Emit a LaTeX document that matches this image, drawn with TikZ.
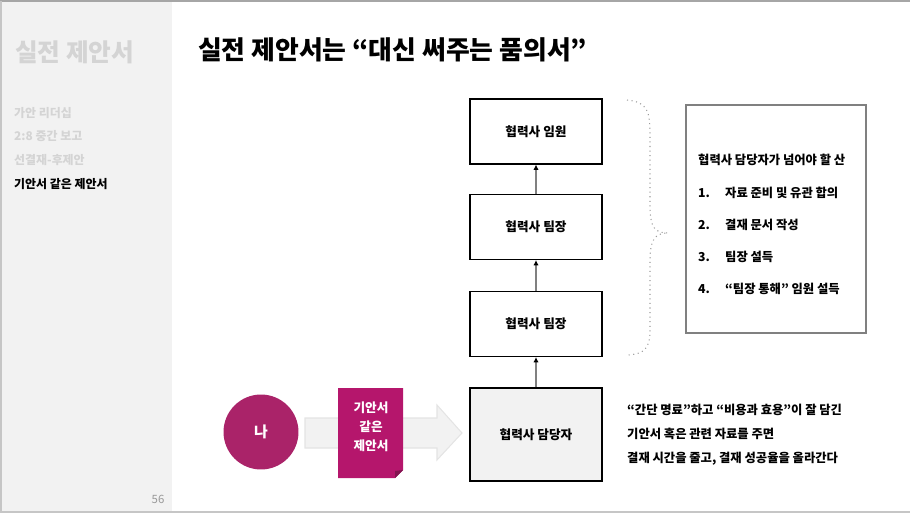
\documentclass[tikz,border=0pt]{standalone}
\usepackage{fontspec}
\setmainfont{Noto Sans CJK KR}
\usetikzlibrary{positioning,arrows.meta}

\definecolor{slidegray}{RGB}{242,242,242}
\definecolor{sidetext}{RGB}{212,212,212}
\definecolor{framegray}{RGB}{128,128,128}
\definecolor{arrowgray}{RGB}{228,228,228}
\definecolor{medown}{RGB}{170,35,105}
\definecolor{docred}{RGB}{181,22,108}
\definecolor{docfold}{RGB}{130,20,80}

\tikzset{
  rolebox/.style={draw=black,line width=0.6pt,fill=white,minimum width=2.64cm,minimum height=1.3cm,font=\fontsize{7.2}{8}\selectfont\bfseries},
  uparrow/.style={draw=framegray,line width=0.6pt,-{Latex[length=3pt,width=3pt,color=black]}},
  menuitem/.style={anchor=west,font=\fontsize{6.8}{8}\selectfont\bfseries,text=sidetext},
  bodytext/.style={anchor=west,font=\fontsize{7}{8}\selectfont\bfseries}
}

\begin{document}
\begin{tikzpicture}[x=0.02cm,y=-0.02cm]
\useasboundingbox (0,0) rectangle (910,514);
% slide frame and side bar
\fill[slidegray] (0,2) rectangle (172,511);
\draw[framegray!70,line width=0.8pt] (0,1) -- (910,1);
\draw[framegray!45,line width=0.8pt] (0,512) -- (910,512);
\draw[framegray!45,line width=0.6pt] (1,1) -- (1,512);
\node[anchor=west,font=\fontsize{14}{16}\selectfont\bfseries,text=sidetext] (sidetitle) at (9,52) {실전 제안서};
\node[menuitem] (menua) at (8,113) {가안 리더십};
\node[menuitem] (menub) at (8,136) {2:8 중간 보고};
\node[menuitem] (menuc) at (8,160) {선결재-후제안};
\node[menuitem,text=black] (menud) at (8,184) {기안서 같은 제안서};
\node[font=\fontsize{6.5}{7}\selectfont,text=framegray!80] (pagenum) at (158,499) {56};
% title
\node[anchor=west,font=\fontsize{14.7}{17}\selectfont\bfseries] (title) at (192,50) {실전 제안서는 “대신 써주는 품의서”};
% chain of roles
\node[rolebox] (exec) at (536,131.5) {협력사 임원};
\node[rolebox] (leadb) at (536,227) {협력사 팀장};
\node[rolebox] (leada) at (536,324) {협력사 팀장};
\node[rolebox,fill=slidegray,minimum height=1.86cm] (staff) at (536,434.5) {협력사 담당자};
\draw[uparrow] (leadb) -- (exec);
\draw[uparrow] (leada) -- (leadb);
\draw[uparrow] (staff) -- (leada);
% dotted brace
\coordinate (bracetop) at (627,100);
\coordinate (bracetip) at (668,233);
\coordinate (bracebot) at (627,355);
\draw[framegray!80,line width=0.6pt,dotted] (bracetop) .. controls (648,102) and (650,112) .. (650,135)
  -- (650,205) .. controls (650,228) and (655,233) .. (bracetip)
  .. controls (655,233) and (650,240) .. (650,260) -- (650,330)
  .. controls (650,348) and (645,354) .. (bracebot);
% list of hurdles
\draw[framegray,line width=0.8pt] (686,105) rectangle (866,333);
\node[bodytext] (listhead) at (692,160) {협력사 담당자가 넘어야 할 산};
\foreach \num/\item/\ypos in {1./자료 준비 및 유관 합의/193, 2./결재 문서 작성/225, 3./팀장 설득/257, 4./“팀장 통해” 임원 설득/289}{
  \node[bodytext] at (692,\ypos) {\num};
  \node[bodytext] at (719,\ypos) {\item};
}
% me, proposal and arrow
\draw[arrowgray,fill=slidegray,line width=0.6pt] (305,418) -- (437,418) -- (437,405) -- (462,433) -- (437,460) -- (437,448) -- (305,448) -- cycle;
\node[circle,fill=medown,minimum size=1.5cm,text=white,font=\fontsize{8.5}{10}\selectfont\bfseries] (me) at (261,432) {나};
\fill[docred] (338,388) -- (403,388) -- (403,470) -- (395,478) -- (338,478) -- cycle;
\fill[docfold] (395,478) -- (403,470) -- (395,471) -- cycle;
\node[text=white,align=center,font=\fontsize{7.2}{10.8}\selectfont\bfseries] (proposal) at (371,427) {기안서\\같은\\제안서};
% effect description
\node[bodytext] (effecta) at (621,410) {“간단 명료”하고 “비용과 효용”이 잘 담긴};
\node[bodytext] (effectb) at (621,434) {기안서 혹은 관련 자료를 주면};
\node[bodytext] (effectc) at (621,459) {결재 시간을 줄고, 결재 성공율을 올라간다};
\end{tikzpicture}
\end{document}
